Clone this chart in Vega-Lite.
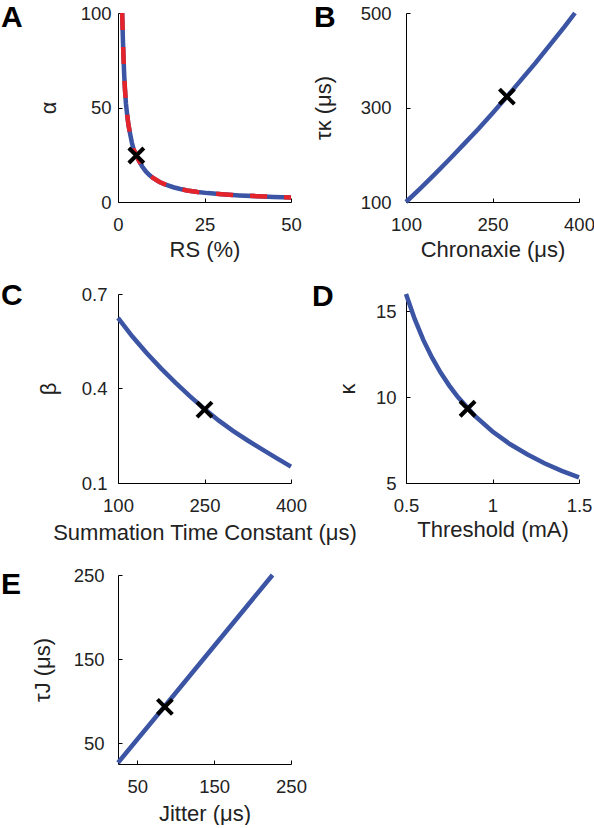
{
  "$schema": "https://vega.github.io/schema/vega-lite/v6.json",
  "background": "white",
  "padding": {"left": 1, "top": 3, "right": 0, "bottom": 0},
  "config": {
    "view": {"stroke": null},
    "font": "Liberation Sans",
    "axis": {
      "domainColor": "#000", "domainWidth": 1, "tickColor": "#000", "tickSize": -4, "tickWidth": 1,
      "labelFont": "Liberation Sans", "labelFontSize": 18.5, "labelColor": "#222",
      "titleFont": "Liberation Sans", "titleFontSize": 22, "titleFontWeight": "normal", "titleColor": "#222",
      "grid": false, "labelFlush": false, "labelOverlap": false
    },
    "title": {"font": "Liberation Sans", "fontSize": 30, "fontWeight": "bold", "anchor": "start", "frame": "group", "color": "#000", "offset": 0, "baseline": "alphabetic"}
  },
  "datasets": {
    "curveA": [
      {"x": 1.2, "y": 100}, {"x": 1.4, "y": 87}, {"x": 1.6, "y": 76}, {"x": 1.8, "y": 67}, {"x": 2, "y": 60},
      {"x": 2.3, "y": 52}, {"x": 2.6, "y": 47}, {"x": 3, "y": 41}, {"x": 3.5, "y": 36}, {"x": 4, "y": 31.5},
      {"x": 4.5, "y": 28}, {"x": 5, "y": 26}, {"x": 5.5, "y": 24}, {"x": 6, "y": 22}, {"x": 7, "y": 18.8},
      {"x": 8, "y": 16.3}, {"x": 9, "y": 14.4}, {"x": 10, "y": 12.9}, {"x": 12, "y": 10.6}, {"x": 14, "y": 9},
      {"x": 16, "y": 7.8}, {"x": 18, "y": 6.9}, {"x": 20, "y": 6.1}, {"x": 23, "y": 5.3}, {"x": 26, "y": 4.7},
      {"x": 30, "y": 4.1}, {"x": 35, "y": 3.5}, {"x": 40, "y": 3.1}, {"x": 45, "y": 2.7}, {"x": 50, "y": 2.4}
    ],
    "markA": [{"x": 5.3, "y": 24.6}],
    "curveB": [
      {"x": 100, "y": 100}, {"x": 125, "y": 129}, {"x": 150, "y": 159}, {"x": 175, "y": 190}, {"x": 200, "y": 222},
      {"x": 225, "y": 254}, {"x": 250, "y": 288}, {"x": 275, "y": 323}, {"x": 300, "y": 359}, {"x": 325, "y": 395},
      {"x": 350, "y": 433}, {"x": 375, "y": 471}, {"x": 393, "y": 500}
    ],
    "markB": [{"x": 275, "y": 323}],
    "curveC": [
      {"x": 100, "y": 0.624}, {"x": 125, "y": 0.565}, {"x": 150, "y": 0.512}, {"x": 175, "y": 0.463}, {"x": 200, "y": 0.418},
      {"x": 225, "y": 0.375}, {"x": 250, "y": 0.335}, {"x": 275, "y": 0.298}, {"x": 300, "y": 0.265}, {"x": 325, "y": 0.235},
      {"x": 350, "y": 0.207}, {"x": 375, "y": 0.179}, {"x": 400, "y": 0.152}
    ],
    "markC": [{"x": 250, "y": 0.333}],
    "curveD": [
      {"x": 0.5, "y": 16}, {"x": 0.55, "y": 14.55}, {"x": 0.6, "y": 13.33}, {"x": 0.65, "y": 12.31}, {"x": 0.7, "y": 11.43},
      {"x": 0.75, "y": 10.67}, {"x": 0.8, "y": 10}, {"x": 0.9, "y": 8.89},
      {"x": 1.0, "y": 8}, {"x": 1.1, "y": 7.27}, {"x": 1.2, "y": 6.67}, {"x": 1.3, "y": 6.15}, {"x": 1.4, "y": 5.71}, {"x": 1.5, "y": 5.33}
    ],
    "markD": [{"x": 0.856, "y": 9.32}],
    "curveE": [{"x": 25, "y": 26.5}, {"x": 86, "y": 94}, {"x": 226, "y": 250}],
    "markE": [{"x": 86, "y": 93}]
  },
  "columns": 2,
  "bounds": "flush",
  "spacing": {"column": 115, "row": 92},
  "concat": [
    {
      "width": 173, "height": 189,
      "title": {"text": "A", "dx": -117, "dy": 33},
      "layer": [
        {"data": {"name": "curveA"}, "mark": {"type": "line", "color": "#3b54a4", "strokeWidth": 4.5},
         "encoding": {
           "x": {"field": "x", "type": "quantitative", "scale": {"domain": [0, 50], "nice": false, "zero": false},
                 "axis": {"title": "RS (%)", "values": [0, 25, 50], "labelPadding": 17, "titlePadding": 6}},
           "y": {"field": "y", "type": "quantitative", "scale": {"domain": [0, 100], "nice": false, "zero": false},
                 "axis": {"title": "α", "values": [0, 50, 100], "labelPadding": 11, "titlePadding": 20}}
         }},
        {"data": {"name": "curveA"}, "mark": {"type": "line", "color": "#e5232b", "strokeWidth": 4.5, "strokeDash": [17, 17]},
         "encoding": {"x": {"field": "x", "type": "quantitative"}, "y": {"field": "y", "type": "quantitative"}}},
        {"data": {"name": "markA"}, "mark": {"type": "point", "shape": "M-1,-1L1,1M1,-1L-1,1", "size": 225, "filled": false, "stroke": "#000", "strokeWidth": 4, "opacity": 1},
         "encoding": {"x": {"field": "x", "type": "quantitative"}, "y": {"field": "y", "type": "quantitative"}}}
      ]
    },
    {
      "width": 173, "height": 189,
      "title": {"text": "B", "dx": -92, "dy": 33},
      "layer": [
        {"data": {"name": "curveB"}, "mark": {"type": "line", "color": "#3b54a4", "strokeWidth": 4.5},
         "encoding": {
           "x": {"field": "x", "type": "quantitative", "scale": {"domain": [100, 400], "nice": false, "zero": false},
                 "axis": {"title": "Chronaxie (μs)", "values": [100, 250, 400], "labelPadding": 17, "titlePadding": 6}},
           "y": {"field": "y", "type": "quantitative", "scale": {"domain": [100, 500], "nice": false, "zero": false},
                 "axis": {"title": "τκ (μs)", "values": [100, 300, 500], "labelPadding": 19, "titlePadding": 25}}
         }},
        {"data": {"name": "markB"}, "mark": {"type": "point", "shape": "M-1,-1L1,1M1,-1L-1,1", "size": 225, "filled": false, "stroke": "#000", "strokeWidth": 4, "opacity": 1},
         "encoding": {"x": {"field": "x", "type": "quantitative"}, "y": {"field": "y", "type": "quantitative"}}}
      ]
    },
    {
      "width": 173, "height": 189,
      "title": {"text": "C", "dx": -117, "dy": 30},
      "layer": [
        {"data": {"name": "curveC"}, "mark": {"type": "line", "color": "#3b54a4", "strokeWidth": 4.5},
         "encoding": {
           "x": {"field": "x", "type": "quantitative", "scale": {"domain": [100, 400], "nice": false, "zero": false},
                 "axis": {"title": "Summation Time Constant (μs)", "values": [100, 250, 400], "labelPadding": 17, "titlePadding": 8}},
           "y": {"field": "y", "type": "quantitative", "scale": {"domain": [0.1, 0.7], "nice": false, "zero": false},
                 "axis": {"title": "β", "values": [0.1, 0.4, 0.7], "format": ".1f", "labelPadding": 15, "titlePadding": 21}}
         }},
        {"data": {"name": "markC"}, "mark": {"type": "point", "shape": "M-1,-1L1,1M1,-1L-1,1", "size": 225, "filled": false, "stroke": "#000", "strokeWidth": 4, "opacity": 1},
         "encoding": {"x": {"field": "x", "type": "quantitative"}, "y": {"field": "y", "type": "quantitative"}}}
      ]
    },
    {
      "width": 173, "height": 189,
      "title": {"text": "D", "dx": -94, "dy": 31},
      "layer": [
        {"data": {"name": "curveD"}, "mark": {"type": "line", "color": "#3b54a4", "strokeWidth": 4.5},
         "encoding": {
           "x": {"field": "x", "type": "quantitative", "scale": {"domain": [0.5, 1.5], "nice": false, "zero": false},
                 "axis": {"title": "Threshold (mA)", "values": [0.5, 1, 1.5], "format": "~g", "labelPadding": 17, "titlePadding": 5}},
           "y": {"field": "y", "type": "quantitative", "scale": {"domain": [5, 16], "nice": false, "zero": false},
                 "axis": {"title": "κ", "values": [5, 10, 15], "labelPadding": 14, "titlePadding": 16}}
         }},
        {"data": {"name": "markD"}, "mark": {"type": "point", "shape": "M-1,-1L1,1M1,-1L-1,1", "size": 225, "filled": false, "stroke": "#000", "strokeWidth": 4, "opacity": 1},
         "encoding": {"x": {"field": "x", "type": "quantitative"}, "y": {"field": "y", "type": "quantitative"}}}
      ]
    },
    {
      "width": 173, "height": 189,
      "title": {"text": "E", "dx": -117, "dy": 38},
      "layer": [
        {"data": {"name": "curveE"}, "mark": {"type": "line", "color": "#3b54a4", "strokeWidth": 4.5},
         "encoding": {
           "x": {"field": "x", "type": "quantitative", "scale": {"domain": [25, 250], "nice": false, "zero": false},
                 "axis": {"title": "Jitter (μs)", "values": [50, 150, 250], "labelPadding": 17, "titlePadding": 8}},
           "y": {"field": "y", "type": "quantitative", "scale": {"domain": [25, 250], "nice": false, "zero": false},
                 "axis": {"title": "τJ (μs)", "values": [50, 150, 250], "labelPadding": 18, "titlePadding": 19}}
         }},
        {"data": {"name": "markE"}, "mark": {"type": "point", "shape": "M-1,-1L1,1M1,-1L-1,1", "size": 225, "filled": false, "stroke": "#000", "strokeWidth": 4, "opacity": 1},
         "encoding": {"x": {"field": "x", "type": "quantitative"}, "y": {"field": "y", "type": "quantitative"}}}
      ]
    }
  ]
}
